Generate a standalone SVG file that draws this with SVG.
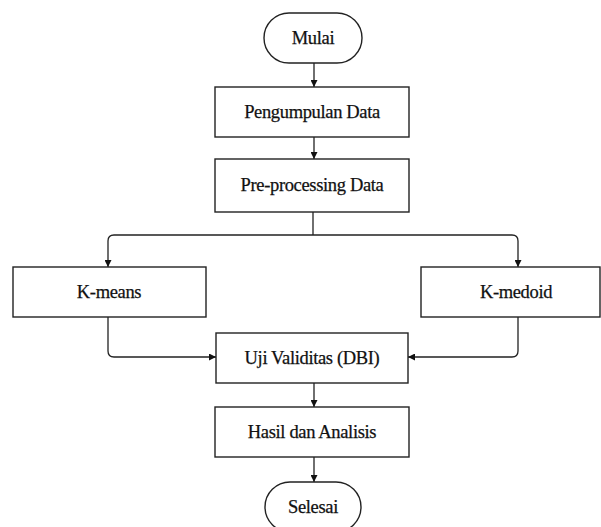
<svg xmlns="http://www.w3.org/2000/svg" width="601" height="527" viewBox="0 0 601 527">
  <defs>
    <marker id="arrow" viewBox="0 0 10 10" refX="10" refY="5" markerWidth="7" markerHeight="7" markerUnits="userSpaceOnUse" orient="auto">
      <path d="M0,0 L10,5 L0,10 Z" fill="#111"/>
    </marker>
    <style>
      .box { fill: #fff; stroke: #222; stroke-width: 1.4; }
      .lbl { font-family: "Liberation Serif", "Times New Roman", serif; font-size: 18.5px; letter-spacing: -0.35px; fill: #111; stroke: #111; stroke-width: 0.25; text-anchor: middle; }
      .conn { fill: none; stroke: #222; stroke-width: 1.3; }
    </style>
  </defs>
  <rect width="601" height="527" fill="#fff"/>

  <g id="connectors">
    <path class="conn" d="M314,63 V87" marker-end="url(#arrow)"/>
    <path class="conn" d="M314,137 V159" marker-end="url(#arrow)"/>
    <path class="conn" d="M313,212 V235"/>
    <path class="conn" d="M313,235 H114 Q108,235 108,241 V267" marker-end="url(#arrow)"/>
    <path class="conn" d="M313,235 H512 Q518,235 518,241 V267" marker-end="url(#arrow)"/>
    <path class="conn" d="M108,317 V351 Q108,357 114,357 H216" marker-end="url(#arrow)"/>
    <path class="conn" d="M518,317 V351 Q518,357 512,357 H408" marker-end="url(#arrow)"/>
    <path class="conn" d="M314,383 V407" marker-end="url(#arrow)"/>
    <path class="conn" d="M314,457 V482" marker-end="url(#arrow)"/>
  </g>

  <g id="mulai">
    <rect class="box" x="264" y="13" width="98" height="50" rx="25" ry="25"/>
    <text class="lbl" x="313" y="44">Mulai</text>
  </g>
  <g id="pengumpulan">
    <rect class="box" x="215" y="87" width="194" height="50"/>
    <text class="lbl" x="312" y="118">Pengumpulan Data</text>
  </g>
  <g id="preprocessing">
    <rect class="box" x="215" y="159" width="194" height="53"/>
    <text class="lbl" x="312" y="191">Pre-processing Data</text>
  </g>
  <g id="kmeans">
    <rect class="box" x="13" y="267" width="193" height="50"/>
    <text class="lbl" x="109" y="298">K-means</text>
  </g>
  <g id="kmedoid">
    <rect class="box" x="421" y="267" width="179" height="50"/>
    <text class="lbl" x="516" y="298">K-medoid</text>
  </g>
  <g id="uji">
    <rect class="box" x="216" y="333" width="192" height="50"/>
    <text class="lbl" x="312" y="364">Uji Validitas (DBI)</text>
  </g>
  <g id="hasil">
    <rect class="box" x="215" y="407" width="194" height="50"/>
    <text class="lbl" x="312" y="438">Hasil dan Analisis</text>
  </g>
  <g id="selesai">
    <rect class="box" x="265" y="482" width="96" height="50" rx="25" ry="25"/>
    <text class="lbl" x="313" y="513">Selesai</text>
  </g>
</svg>
